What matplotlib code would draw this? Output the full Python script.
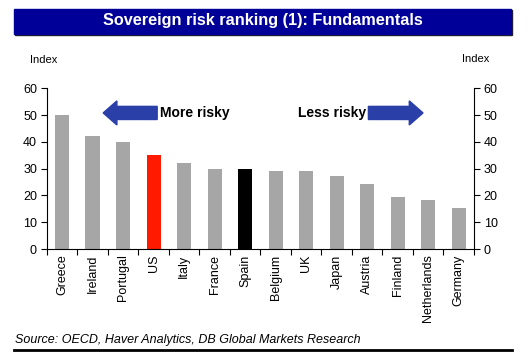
import matplotlib.pyplot as plt
from matplotlib.patches import FancyArrow, Rectangle
from matplotlib.lines import Line2D

plt.rcParams['font.family'] = ['Liberation Sans', 'DejaVu Sans']

countries = ['Greece', 'Ireland', 'Portugal', 'US', 'Italy', 'France', 'Spain',
             'Belgium', 'UK', 'Japan', 'Austria', 'Finland', 'Netherlands',
             'Germany']
scores = [50.0, 42.2, 40.0, 35.1, 32.1, 29.9, 29.9, 29.1, 29.1, 27.3, 24.3,
          19.4, 18.3, 15.3]
grey = '#a6a6a6'
colors = [grey] * len(countries)
colors[countries.index('US')] = '#ff1a00'
colors[countries.index('Spain')] = '#000000'
yticks = [0, 10, 20, 30, 40, 50, 60]

fig = plt.figure(figsize=(5.31, 3.62), dpi=100)
W, H = 531, 362
ax = fig.add_axes([46.7 / W, 1 - 249 / H, (474 - 46.7) / W, (249 - 88.3) / H])

x = list(range(len(countries)))
ax.bar(x, scores, width=0.46, color=colors)
ax.set_xlim(-0.5, len(countries) - 0.5)
ax.set_ylim(0, 60)
ax.set_yticks(yticks)
ax.tick_params(axis='y', labelsize=9, length=4, width=0.8, pad=3,
               right=True, labelright=True)
ax.set_xticks(x)
ax.set_xticklabels(countries, rotation=90, fontsize=9)
ax.tick_params(axis='x', length=0, pad=4)
ax.set_xticks([i + 0.5 for i in range(-1, len(countries))], minor=True)
ax.tick_params(axis='x', which='minor', length=4, width=0.8, direction='out')
ax.spines['top'].set_visible(False)
for s in ['left', 'right', 'bottom']:
    ax.spines[s].set_linewidth(0.8)

# direction arrows
arrow_col = '#2b3fa8'
ax.add_patch(FancyArrow(3.12, 50.8, -1.77, 0, width=4.9, head_width=9.0,
                        head_length=0.45, length_includes_head=True,
                        color=arrow_col, clip_on=False))
ax.add_patch(FancyArrow(10.04, 50.8, 1.79, 0, width=4.9, head_width=9.0,
                        head_length=0.45, length_includes_head=True,
                        color=arrow_col, clip_on=False))
ax.text(3.2, 50.8, 'More risky', fontsize=10, fontweight='bold',
        ha='left', va='center')
ax.text(9.97, 50.8, 'Less risky', fontsize=10, fontweight='bold',
        ha='right', va='center')

# axis unit labels
fig.text(44 / W, 1 - 60 / H, 'Index', fontsize=8, ha='center', va='center')
fig.text(476 / W, 1 - 59 / H, 'Index', fontsize=8, ha='center', va='center')

# title bar
fig.add_artist(Rectangle((15 / W, 1 - 35 / H), 497 / W, 25 / H,
                         transform=fig.transFigure, color='#222222'))
fig.add_artist(Rectangle((14 / W, 1 - 34 / H), 497 / W, 25 / H,
                         transform=fig.transFigure, color='#000099'))
fig.text(263 / W, 1 - 21 / H, 'Sovereign risk ranking (1): Fundamentals',
         color='white', fontsize=11.7, fontweight='bold',
         ha='center', va='center')

# source + rule
fig.text(15 / W, 1 - 340 / H,
         'Source: OECD, Haver Analytics, DB Global Markets Research',
         fontsize=9, style='italic', ha='left', va='center')
fig.add_artist(Line2D([14 / W, 512 / W], [1 - 350 / H, 1 - 350 / H],
                      transform=fig.transFigure, color='black', linewidth=2))

fig.savefig('out.png', dpi=100)
